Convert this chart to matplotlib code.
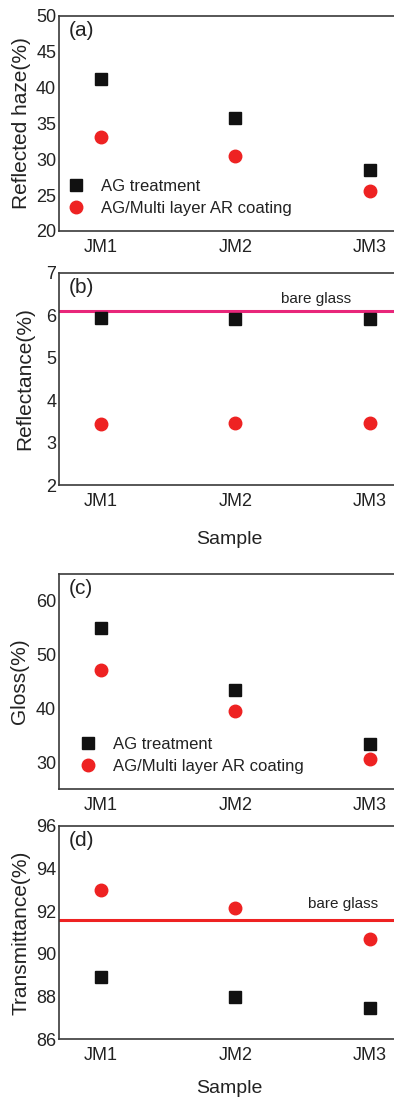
import matplotlib
matplotlib.use("Agg")
import matplotlib.pyplot as plt

plt.rcParams['font.family'] = ['Liberation Sans', 'DejaVu Sans']

samples = ["JM1", "JM2", "JM3"]
x = [1, 2, 3]

haze_ag = [41.2, 35.7, 28.5]
haze_ar = [33.1, 30.4, 25.6]

refl_ag = [5.95, 5.92, 5.92]
refl_ar = [3.44, 3.47, 3.47]
refl_bare = 6.1

gloss_ag = [54.9, 43.4, 33.3]
gloss_ar = [47.2, 39.6, 30.5]

trans_ag = [88.9, 87.95, 87.45]
trans_ar = [93.0, 92.15, 90.7]
trans_bare = 91.6

W, H = 394, 1098
fig = plt.figure(figsize=(W / 100, H / 100), dpi=100)

def add_ax(top, bottom, left=59, right=400):
    return fig.add_axes([left / W, 1 - bottom / H, (right - left) / W, (bottom - top) / H])

spine_c = "#3a3a3a"
txt_c = "#222222"
sq_kw = dict(marker="s", color="#111111", markersize=8.5, linestyle="none")
ci_kw = dict(marker="o", color="#ee2222", markersize=9, linestyle="none")

def style(ax, ylim, yticks, ylabel, letter, label_x):
    ax.set_xlim(0.688, 3.223)
    ax.set_ylim(*ylim)
    ax.set_yticks(yticks)
    ax.set_xticks(x)
    ax.set_xticklabels(samples)
    ax.tick_params(length=0, labelsize=13, colors=txt_c, pad=2)
    ax.tick_params(axis="x", pad=6)
    for s in ax.spines.values():
        s.set_color(spine_c)
        s.set_linewidth(1.2)
    ax.set_ylabel(ylabel, fontsize=15, color=txt_c)
    ax.yaxis.set_label_coords((label_x - 59) / 341, 0.5)
    ax.text(0.028, 0.975, letter, transform=ax.transAxes, fontsize=15,
            va="top", ha="left", color=txt_c)

leg_kw = dict(loc="lower left", frameon=False, fontsize=12, handletextpad=0.5,
              labelspacing=0.4, borderaxespad=0.0, borderpad=0.0, labelcolor=txt_c)

# (a)
ax1 = add_ax(16, 231)
ax1.plot(x, haze_ag, label="AG treatment", **sq_kw)
ax1.plot(x, haze_ar, label="AG/Multi layer AR coating", **ci_kw)
style(ax1, (20, 50), [20, 25, 30, 35, 40, 45, 50], "Reflected haze(%)", "(a)", 31)
ax1.legend(bbox_to_anchor=(0.0, 0.07), **leg_kw)

# (b)
ax2 = add_ax(273, 485)
ax2.axhline(refl_bare, color="#e8267a", linewidth=2.2)
ax2.plot(x, refl_ag, **sq_kw)
ax2.plot(x, refl_ar, **ci_kw)
style(ax2, (2, 7), [2, 3, 4, 5, 6, 7], "Reflectance(%)", "(b)", 34)
ax2.text(2.6, refl_bare + 0.13, "bare glass", fontsize=11, ha="center", va="bottom", color=txt_c)
ax2.set_xlabel("Sample", fontsize=14, color=txt_c, labelpad=15)

# (c)
ax3 = add_ax(574, 789)
ax3.plot(x, gloss_ag, label="AG treatment", **sq_kw)
ax3.plot(x, gloss_ar, label="AG/Multi layer AR coating", **ci_kw)
style(ax3, (25, 65), [30, 40, 50, 60], "Gloss(%)", "(c)", 29)
ax3.legend(bbox_to_anchor=(0.035, 0.07), **leg_kw)

# (d)
ax4 = add_ax(826, 1039)
ax4.axhline(trans_bare, color="#ee2222", linewidth=2.2)
ax4.plot(x, trans_ag, **sq_kw)
ax4.plot(x, trans_ar, **ci_kw)
style(ax4, (86, 96), [86, 88, 90, 92, 94, 96], "Transmittance(%)", "(d)", 31)
ax4.text(2.8, trans_bare + 0.42, "bare glass", fontsize=11, ha="center", va="bottom", color=txt_c)
ax4.set_xlabel("Sample", fontsize=14, color=txt_c, labelpad=11)

fig.savefig("out.png", dpi=100)
